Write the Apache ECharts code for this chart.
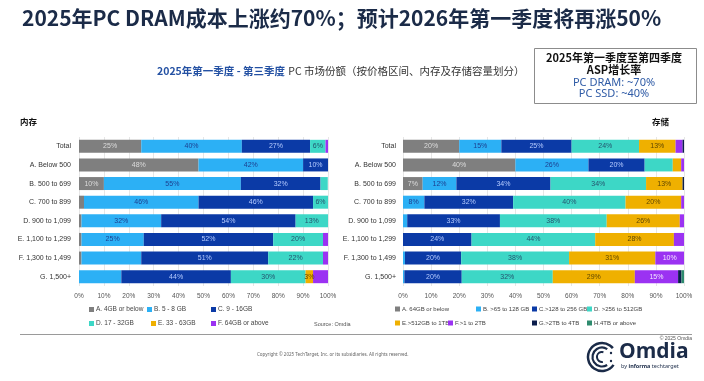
<!DOCTYPE html>
<html><head><meta charset="utf-8">
<script src="https://cdn.jsdelivr.net/npm/echarts@6/dist/echarts.min.js"></script>
<style>html,body{margin:0;padding:0;background:#fff}#c{width:704px;height:381px}</style>
</head><body><div id="c"></div>
<script>
// ---------- DATA ----------
const categories = ['Total','A. Below 500','B. 500 to 699','C. 700 to 899','D. 900 to 1,099','E. 1,100 to 1,299','F. 1,300 to 1,499','G. 1,500+'];

const memNames = ['A. 4GB or below','B. 5 - 8 GB','C. 9 - 16GB','D. 17 - 32GB','E. 33 - 63GB','F. 64GB or above'];
const memA = [25, 48, 10, 2, 1, 1, 1, 0];
const memB = [40.4, 42, 55, 46, 32, 25, 24, 17];
const memC = [27.4, 10, 32, 46, 54, 52, 51, 44];
const memD = [6.2, 0, 2.9, 6, 13, 20, 22, 30];
const memE = [0, 0, 0, 0, 0, 0, 0, 3];
const memF = [1, 0, 0, 0, 0, 2, 2, 6];
// segments without a printed value label: [seriesIndex, categoryIndex]
const memUnlabeled = [[1, 6], [1, 7], [5, 7]];

const stoNames = ['A. 64GB or below','B. >65 to 128 GB','C.>128 to 256 GB','D. >256 to 512GB','E.>512GB to 1TB','F.>1 to 2TB','G.>2TB to 4TB','H.4TB or above'];
const stoA = [20, 40, 7, 0, 0, 0, 0, 0];
const stoB = [15, 26, 12, 7.6, 1.5, 0, 0.7, 0.5];
const stoC = [25, 20, 33.5, 31.6, 33, 24.4, 20, 20.4];
const stoD = [24, 10, 34, 40, 38, 44, 38.4, 32.4];
const stoE = [13, 3, 13, 19.8, 26, 28, 30.7, 29.2];
const stoF = [2.5, 1, 0, 1, 1.5, 3.6, 10.2, 15.4];
const stoG = [0.5, 0, 0.5, 0, 0, 0, 0, 1.2];
const stoH = [0, 0, 0, 0, 0, 0, 0, 0.9];
const stoUnlabeled = [[3, 1], [4, 1], [5, 5]];

const titleText = '2025年PC DRAM成本上涨约70%；预计2026年第一季度将再涨50%';
const subtitleBlue = '2025年第一季度 - 第三季度';
const subtitleRest = 'PC 市场份额（按价格区间、内存及存储容量划分）';
const boxLines = ['2025年第一季度至第四季度', 'ASP增长率', 'PC DRAM: ~70%', 'PC SSD: ~40%'];

// ---------- STYLE ----------
const colors = ['#7f7f7f','#2cb0f5','#0b3aa6','#3dd7c6','#efb000','#9b32f2','#0b1d4c','#2e8b6e'];
const labelColors = ['#dcdcdc','#1d3f8f','#b5cbff','#25546e','#5e4600','#f3e6ff','#ffffff','#ffffff'];
const FONT = '"Noto Sans","Noto Sans CJK SC",sans-serif';
const SMALL = '"Liberation Sans",Arial,sans-serif';
const CJK = '"Noto Sans CJK SC",sans-serif';

function buildSeries(names, arrays, unlabeled, axisIndex) {
  return arrays.map((arr, si) => ({
    name: names[si],
    type: 'bar',
    stack: 'total' + axisIndex,
    xAxisIndex: axisIndex,
    yAxisIndex: axisIndex,
    barWidth: 13,
    itemStyle: { color: colors[si] },
    label: {
      show: true, position: 'inside', fontSize: 7, fontFamily: SMALL,
      color: labelColors[si],
      formatter: p => Math.round(p.value) + '%'
    },
    data: arr.map((v, ci) => ({
      value: v,
      label: { show: v >= 3 && !unlabeled.some(u => u[0] === si && u[1] === ci) }
    }))
  }));
}

const memSeries = buildSeries(memNames, [memA, memB, memC, memD, memE, memF], memUnlabeled, 0);
const stoSeries = buildSeries(stoNames, [stoA, stoB, stoC, stoD, stoE, stoF, stoG, stoH], stoUnlabeled, 1);

// legend item positions [x, y]
const memLegendPos = [[89,306],[147,306],[211,306],[89,320],[151,320],[211,320]];
const stoLegendPos = [[395,306],[476,306],[532,306],[587,306],[395,320],[448,320],[532,320],[587,320]];
const legends = [];
memNames.forEach((n, i) => legends.push({ data: [n], left: memLegendPos[i][0], top: memLegendPos[i][1], fs: 6.5 }));
stoNames.forEach((n, i) => legends.push({ data: [n], left: stoLegendPos[i][0], top: stoLegendPos[i][1], fs: 6 }));
legends.forEach(l => {
  const fs = l.fs; delete l.fs;
  Object.assign(l, {
    icon: 'rect', itemWidth: 5, itemHeight: 5, itemGap: 3, padding: 0, selectedMode: false,
    textStyle: { fontSize: fs, color: '#444', fontFamily: SMALL, padding: [0, 0, 0, -3] }
  });
});

function xAx(gi) {
  return {
    type: 'value', gridIndex: gi, min: 0, max: 100, interval: 10,
    axisLine: { show: false }, axisTick: { show: false },
    axisLabel: { formatter: '{value}%', fontSize: 6.5, color: '#555', fontFamily: SMALL, margin: 7 },
    splitLine: { lineStyle: { color: '#e6e6e6' } }
  };
}
function yAx(gi, margin) {
  return {
    type: 'category', gridIndex: gi, data: categories, inverse: true,
    axisLine: { show: false }, axisTick: { show: false },
    axisLabel: { fontSize: 7, color: '#333', fontFamily: SMALL, margin: margin }
  };
}

const navy = '#1b2b48';
const graphic = [
  { type: 'text', style: { text: titleText, x: 22, y: 18, textVerticalAlign: 'middle', font: 'bold 21px ' + CJK, fill: navy } },
  { type: 'text', style: { text: '{b|' + subtitleBlue + '} {n|' + subtitleRest + '}', x: 157, y: 71, textVerticalAlign: 'middle',
      rich: { b: { fontSize: 10.5, fontWeight: 'bold', fill: '#2451a3', fontFamily: CJK }, n: { fontSize: 10.5, fill: '#333', fontFamily: CJK } } } },
  { type: 'rect', shape: { x: 534.5, y: 48.5, width: 162, height: 55 }, style: { fill: '#fff', stroke: '#8c8c8c', lineWidth: 1 } },
  { type: 'text', style: { text: boxLines[0], x: 614, y: 58, textAlign: 'center', textVerticalAlign: 'middle', font: 'bold 11px ' + CJK, fill: '#111' } },
  { type: 'text', style: { text: boxLines[1], x: 614, y: 70, textAlign: 'center', textVerticalAlign: 'middle', font: 'bold 11px ' + CJK, fill: '#111' } },
  { type: 'text', style: { text: boxLines[2], x: 614, y: 83, textAlign: 'center', textVerticalAlign: 'middle', font: '11px ' + FONT, fill: '#2f5ba6' } },
  { type: 'text', style: { text: boxLines[3], x: 614, y: 94, textAlign: 'center', textVerticalAlign: 'middle', font: '11px ' + FONT, fill: '#2f5ba6' } },
  { type: 'text', style: { text: '内存', x: 20, y: 122, textVerticalAlign: 'middle', font: 'bold 8.5px ' + CJK, fill: '#111' } },
  { type: 'text', style: { text: '存储', x: 652, y: 122, textVerticalAlign: 'middle', font: 'bold 8.5px ' + CJK, fill: '#111' } },
  { type: 'text', style: { text: 'Source: Omdia', x: 314, y: 324, textVerticalAlign: 'middle', font: '5.5px ' + SMALL, fill: '#555' } },
  { type: 'line', shape: { x1: 20, y1: 334.5, x2: 692, y2: 334.5 }, style: { stroke: '#9a9a9a', lineWidth: 1 } },
  { type: 'text', style: { text: 'Copyright © 2025 TechTarget, Inc. or its subsidiaries. All rights reserved.', x: 257, y: 355, textVerticalAlign: 'middle', font: '4.5px ' + FONT, fill: '#666' } },
  { type: 'text', style: { text: '© 2025 Omdia', x: 692, y: 339, textAlign: 'right', textVerticalAlign: 'middle', font: '5px ' + SMALL, fill: '#555' } },
  // Omdia logo
  { type: 'arc', shape: { cx: 602, cy: 357, r: 14, startAngle: 0.6, endAngle: 5.6 }, style: { stroke: navy, fill: 'none', lineWidth: 2.5 } },
  { type: 'arc', shape: { cx: 602, cy: 357, r: 9.5, startAngle: 1.0, endAngle: 5.3 }, style: { stroke: navy, fill: 'none', lineWidth: 2.2 } },
  { type: 'arc', shape: { cx: 602, cy: 357, r: 5, startAngle: 1.4, endAngle: 5.0 }, style: { stroke: navy, fill: 'none', lineWidth: 2 } },
  { type: 'circle', shape: { cx: 611, cy: 353, r: 1.2 }, style: { fill: navy } },
  { type: 'circle', shape: { cx: 611, cy: 361, r: 1.2 }, style: { fill: navy } },
  { type: 'text', style: { text: 'Omdia', x: 619, y: 352, textVerticalAlign: 'middle', font: 'bold 21px "Open Sans",' + FONT, fill: navy } },
  { type: 'text', style: { text: '{a|by }{b|informa}{c| techtarget}', x: 621, y: 366, textVerticalAlign: 'middle',
      rich: { a: { fontSize: 5.5, fill: navy, fontFamily: FONT }, b: { fontSize: 5.5, fontWeight: 'bold', fill: navy, fontFamily: FONT }, c: { fontSize: 5.5, fill: navy, fontFamily: FONT } } } }
];

const option = {
  animation: false,
  backgroundColor: '#fff',
  textStyle: { fontFamily: FONT },
  grid: [
    { left: 79, top: 137, width: 249, height: 149 },
    { left: 403, top: 137, width: 281, height: 149 }
  ],
  xAxis: [xAx(0), xAx(1)],
  yAxis: [yAx(0, 8), yAx(1, 7)],
  legend: legends,
  series: memSeries.concat(stoSeries),
  graphic: graphic
};
const chart = echarts.init(document.getElementById('c'), null, { renderer: 'canvas' });
chart.setOption(option);
</script></body></html>
